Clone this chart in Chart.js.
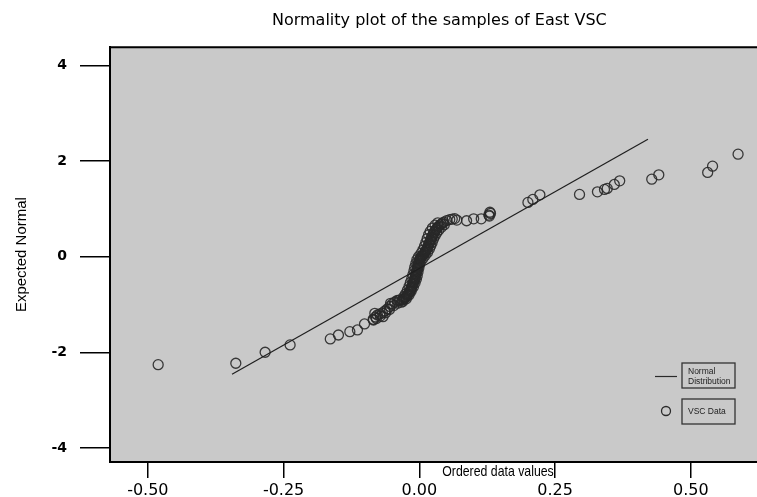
<!DOCTYPE html>
<html>
<head>
<meta charset="utf-8">
<script src="https://cdn.jsdelivr.net/npm/chart.js@4.4.1/dist/chart.umd.min.js"></script>
<style>
html,body{margin:0;padding:0;overflow:hidden;background:#fff;}
canvas{display:block;}
</style>
</head>
<body>
<canvas id="c" width="775" height="497"></canvas>
<script>
// ---- data ----
const xTicks = [-0.50, -0.25, 0.00, 0.25, 0.50];
const yTicks = [-4, -2, 0, 2, 4];
const xRange = [-0.5697, 0.6434];
const yRange = [-4.29, 4.38];

const normalLineX = [-0.345, 0.421];
const normalLineY = [-2.455, 2.457];

const vscX = [
  -0.481, -0.338, -0.284, -0.238, -0.164, -0.149, -0.128, -0.114, -0.101, -0.085, -0.082, -0.067, -0.053,
  -0.0845, -0.0808, -0.0772, -0.0726, -0.0680, -0.0635, -0.0589, -0.0544, -0.0498, -0.0452, -0.0407, -0.0361,
  -0.0316, -0.0279, -0.0243, -0.0206, -0.0170, -0.0151, -0.0133, -0.0115, -0.0097, -0.0078, -0.0069, -0.0057,
  -0.0042, -0.0033, -0.0024, -0.0005, 0.0013, 0.0031, 0.0058, 0.0086, 0.0113, 0.0140, 0.0162, 0.0186, 0.0210,
  0.0232, 0.0259, 0.0286, 0.0323, 0.0359, 0.0405, 0.0451, 0.0505, 0.0560, 0.0606, 0.0651,
  -0.0380, -0.0297, -0.0261, -0.0225, -0.0188, -0.0160, -0.0142, -0.0124, -0.0106, -0.0088, -0.0073, -0.0063,
  -0.0050, -0.0038, -0.0028, -0.0015, 0.0004, 0.0022, 0.0045, 0.0072, 0.0100, 0.0127, 0.0151, 0.0174, 0.0198,
  0.0221, 0.0245, 0.0272, 0.0305, 0.0341, 0.0382, 0.0428,
  -0.0301, -0.0240, -0.0190, -0.0150, -0.0110, -0.0080, -0.0055, -0.0040, -0.0025, -0.0010, 0.0005, 0.0030,
  0.0070, 0.0110, 0.0150, 0.0185, 0.0210, 0.0235, 0.0260, 0.0290, 0.0320, 0.0360, 0.0410, 0.0460,
  -0.0290, -0.0255, -0.0220, -0.0190, -0.0165, -0.0140, -0.0120, -0.0100, -0.0085, -0.0065, -0.0045, -0.0015,
  0.0030, 0.0065, 0.0095, 0.0120, 0.0145, 0.0170, 0.0200, 0.0240, 0.0290, 0.0340,
  -0.0790, -0.0720, -0.0620, -0.0550, -0.0470, -0.0400, -0.0330,
  0.069, 0.087, 0.100, 0.114, 0.128, 0.131, 0.129, 0.130, 0.200, 0.209, 0.222, 0.295, 0.328, 0.341, 0.346,
  0.359, 0.369, 0.428, 0.441, 0.531, 0.540, 0.587
];
const vscY = [
  -2.255, -2.226, -1.996, -1.843, -1.718, -1.635, -1.566, -1.530, -1.405, -1.307, -1.182, -1.253, -0.973,
  -1.322, -1.259, -1.217, -1.196, -1.175, -1.134, -1.092, -1.040, -0.987, -0.946, -0.914, -0.908,
  -0.904, -0.873, -0.841, -0.779, -0.716, -0.664, -0.612, -0.549, -0.497, -0.445, -0.382, -0.330,
  -0.278, -0.215, -0.163, -0.090, -0.048, -0.006, 0.025, 0.056, 0.109, 0.161, 0.223, 0.286, 0.349,
  0.411, 0.474, 0.537, 0.589, 0.641, 0.683, 0.724, 0.756, 0.777, 0.787, 0.797,
  -0.911, -0.889, -0.857, -0.810, -0.748, -0.690, -0.638, -0.580, -0.523, -0.471, -0.414, -0.356,
  -0.304, -0.246, -0.189, -0.127, -0.069, -0.027, 0.010, 0.040, 0.083, 0.135, 0.192, 0.255, 0.318,
  0.380, 0.443, 0.506, 0.563, 0.615, 0.662, 0.704,
  -0.93, -0.88, -0.80, -0.72, -0.63, -0.55, -0.47, -0.40, -0.32, -0.24, -0.16, -0.09,
  -0.03, 0.03, 0.09, 0.16, 0.23, 0.30, 0.37, 0.44, 0.50, 0.56, 0.62, 0.67,
  -0.84, -0.78, -0.70, -0.62, -0.54, -0.46, -0.38, -0.30, -0.22, -0.14, -0.06, 0.00,
  0.07, 0.14, 0.22, 0.30, 0.38, 0.46, 0.53, 0.60, 0.66, 0.71,
  -1.29, -1.24, -1.17, -1.10, -1.02, -0.97, -0.95,
  0.766, 0.752, 0.793, 0.793, 0.871, 0.906, 0.850, 0.930, 1.136, 1.198, 1.294, 1.303, 1.357, 1.407, 1.428,
  1.511, 1.587, 1.622, 1.712, 1.762, 1.894, 2.144
];

const titleText = 'Normality plot of the samples of East VSC';
const xAxisLabel = 'Ordered data values';
const yAxisLabel = 'Expected Normal';
const legendLine = ['Normal', 'Distribution'];
const legendPoint = 'VSC Data';

// ---- plot box, legend and x-axis label ----
const plotBox = {
  id: 'plotBox',
  beforeDraw(chart) {
    const {ctx, chartArea: a} = chart;
    ctx.save();
    ctx.fillStyle = '#c9c9c9';
    ctx.fillRect(a.left, a.top, a.right - a.left, a.bottom - a.top);
    ctx.restore();
  },
  afterDraw(chart) {
    const {ctx, chartArea: a} = chart;
    ctx.save();
    // top and right border
    ctx.strokeStyle = '#000';
    ctx.lineWidth = 2;
    ctx.beginPath();
    ctx.moveTo(a.left - 1, a.top);
    ctx.lineTo(a.right - 1, a.top);
    ctx.lineTo(a.right - 1, a.bottom);
    ctx.stroke();

    // legend
    ctx.strokeStyle = '#2a2a2a';
    ctx.lineWidth = 1.2;
    ctx.beginPath();
    ctx.moveTo(655, 376.5);
    ctx.lineTo(677, 376.5);
    ctx.stroke();
    ctx.lineWidth = 1.3;
    ctx.beginPath();
    ctx.arc(666, 411, 4.5, 0, Math.PI * 2);
    ctx.stroke();
    ctx.strokeStyle = '#333';
    ctx.lineWidth = 1.3;
    ctx.strokeRect(682, 363, 53, 25);
    ctx.strokeRect(682, 399, 53, 25);
    ctx.fillStyle = '#222';
    ctx.font = '8.5px "Liberation Sans", Arial, sans-serif';
    ctx.textAlign = 'left';
    ctx.textBaseline = 'middle';
    ctx.fillText(legendLine[0], 688, 371.5);
    ctx.fillText(legendLine[1], 688, 381.5);
    ctx.fillText(legendPoint, 688, 411.5);

    // x axis label (condensed, between ticks)
    ctx.translate(498, 472);
    ctx.scale(0.82, 1);
    ctx.fillStyle = '#000';
    ctx.font = '15px "Liberation Sans", Arial, sans-serif';
    ctx.textAlign = 'center';
    ctx.textBaseline = 'middle';
    ctx.fillText(xAxisLabel, 0, 0);
    ctx.restore();
  }
};

new Chart(document.getElementById('c'), {
  type: 'scatter',
  data: {
    datasets: [
      {
        label: 'Normal Distribution',
        type: 'line',
        data: normalLineX.map((x, i) => ({x, y: normalLineY[i]})),
        borderColor: '#1e1e1e',
        borderWidth: 1.2,
        pointRadius: 0,
        showLine: true,
        fill: false,
        order: 1
      },
      {
        label: legendPoint,
        data: vscX.map((x, i) => ({x, y: vscY[i]})),
        pointRadius: 5,
        pointHoverRadius: 5,
        borderColor: 'rgba(40,40,40,0.9)',
        borderWidth: 1.3,
        backgroundColor: 'rgba(0,0,0,0)',
        order: 2
      }
    ]
  },
  options: {
    responsive: false,
    animation: false,
    devicePixelRatio: 1,
    layout: {padding: 0},
    plugins: {
      legend: {display: false},
      tooltip: {enabled: false},
      title: {
        display: true,
        text: titleText,
        fullSize: false,
        color: '#000',
        font: {family: '"DejaVu Sans", sans-serif', size: 16, weight: 'normal'},
        padding: {top: 11, bottom: 17}
      }
    },
    scales: {
      x: {
        type: 'linear',
        position: 'bottom',
        min: xRange[0],
        max: xRange[1],
        afterBuildTicks: s => { s.ticks = xTicks.map(v => ({value: v})); },
        afterFit: s => { s.height = 35; },
        grid: {drawOnChartArea: false, drawTicks: true, tickLength: 16, color: '#000', lineWidth: 1.5},
        border: {display: true, color: '#000', width: 2},
        ticks: {
          padding: 3,
          color: '#000',
          font: {family: '"DejaVu Sans", sans-serif', size: 16},
          callback: v => Number(v).toFixed(2)
        }
      },
      y: {
        type: 'linear',
        position: 'left',
        min: yRange[0],
        max: yRange[1],
        afterBuildTicks: s => { s.ticks = yTicks.map(v => ({value: v})); },
        afterFit: s => { s.width = 110; },
        grid: {drawOnChartArea: false, drawTicks: true, tickLength: 30, color: '#000', lineWidth: 1.5},
        border: {display: true, color: '#000', width: 2},
        ticks: {
          padding: 13,
          color: '#000',
          font: {family: '"DejaVu Sans", sans-serif', size: 14, weight: 'bold'},
          callback: v => String(v)
        },
        title: {
          display: true,
          text: yAxisLabel,
          color: '#000',
          font: {family: '"Liberation Sans", Arial, sans-serif', size: 15},
          padding: {top: 13, bottom: 0}
        }
      }
    }
  },
  plugins: [plotBox]
});
</script>
</body>
</html>
